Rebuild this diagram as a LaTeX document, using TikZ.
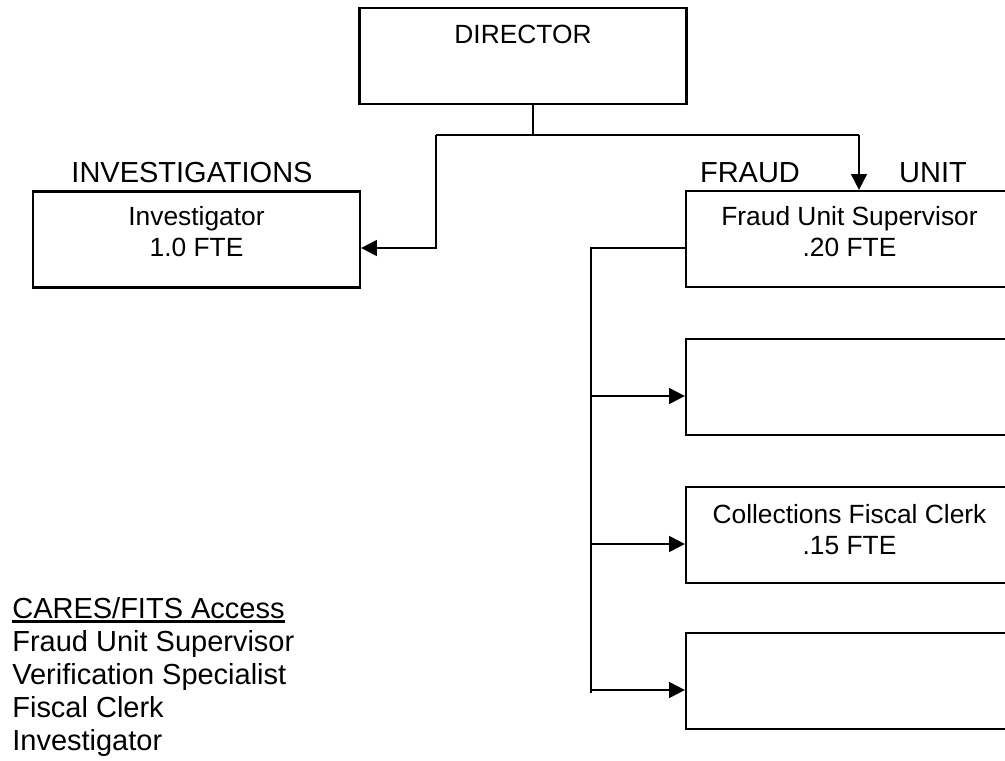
\documentclass[tikz,border=0pt]{standalone}
\usepackage{fontspec}
\setmainfont{Liberation Sans}
\usepackage{tikz}
\usetikzlibrary{positioning,arrows.meta,calc}
\newcommand{\listhead}[1]{\setbox0\hbox{#1}\rlap{\rule[-2.4pt]{\wd0}{1.2pt}}\box0}

\begin{document}
\begin{tikzpicture}[x=0.02cm, y=-0.02cm,
    post/.style={rectangle, draw, line width=1.3pt, minimum width=6.54cm, minimum height=1.92cm, inner sep=0pt},
    posttext/.style={align=center, inner sep=0pt, font=\fontsize{15pt}{17.6pt}\selectfont},
    unittitle/.style={anchor=base, inner sep=0pt, font=\fontsize{16.5pt}{18.8pt}\selectfont},
    access/.style={align=left, inner sep=0pt, font=\fontsize{16.5pt}{18.8pt}\selectfont},
    link/.style={line width=1.2pt},
    linkarrow/.style={line width=1.2pt, -{Triangle[length=9pt,width=9pt]}}]
    \useasboundingbox (0,0) rectangle (1005,761);

    % boxes
    \node[post] (dir) at (523, 56) {};
    \node[posttext, below=0.36cm of dir.north] (dirT) {DIRECTOR};
    \node[post] (inv) at (196.5, 239.5) {};
    \node[posttext, below=0.32cm of inv.north] (invT) {Investigator\\1.0 FTE};
    \node[post] (fus) at (849.5, 239) {};
    \node[posttext, below=0.32cm of fus.north] (fusT) {Fraud Unit Supervisor\\.20 FTE};

    % unit headings
    \node[unittitle] (invHead) at (192, 182) {INVESTIGATIONS};
    \node[unittitle] (fraudHead) at (750, 182) {FRAUD};
    \node[unittitle] (unitHead) at (933, 182) {UNIT};

    % director to units
    \coordinate (fork) at (533, 135);
    \coordinate (forkL) at (436, 135);
    \coordinate (forkR) at (859, 135);
    \draw[link] (dir.south -| fork) -- (fork);
    \draw[link] (forkL) -- (forkR);
    \draw[linkarrow] (forkL) |- ($(inv.east)+(0,8.5)$);
    \draw[linkarrow] (forkR) -- (forkR |- fus.north);

    % fraud unit staff
    \coordinate (trunk) at (591, 248);
    \coordinate (trunkEnd) at (591, 693);
    \draw[link] ($(fus.west)+(0,9)$) -- (trunk) -- (trunkEnd);
    \foreach \n/\y in {pos1/387, clerk/535, pos3/681} {
        \node[post] (\n) at (849.5, \y) {};
        \coordinate (\n-in) at ($(\n.west)+(0,9)$);
        \draw[linkarrow] (trunk |- \n-in) -- (\n-in);
    }
    \node[posttext, below=0.36cm of clerk.north] (clerkT) {Collections Fiscal Clerk\\.15 FTE};

    % access list
    \node[access, anchor=north west] (accessList) at (12, 597) {\listhead{CARES/FITS Access}\\Fraud Unit Supervisor\\Verification Specialist\\Fiscal Clerk\\Investigator};
\end{tikzpicture}
\end{document}
